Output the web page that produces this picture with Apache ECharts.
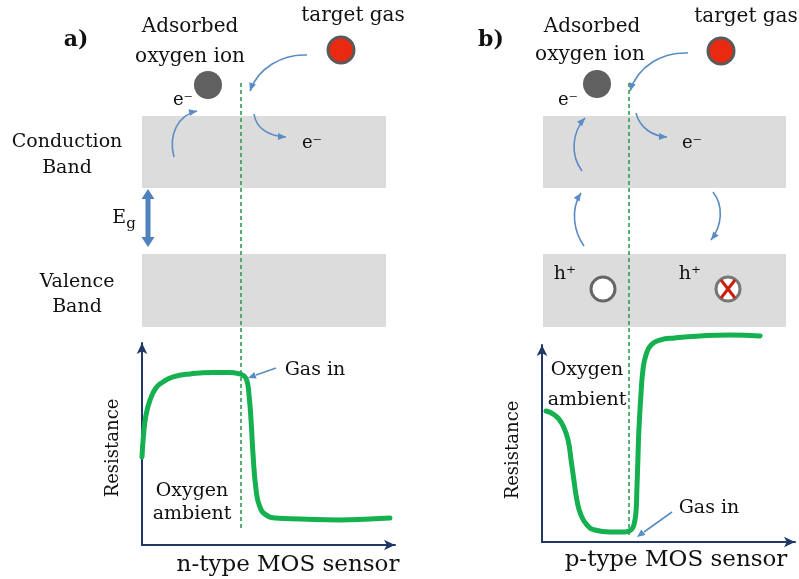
<!DOCTYPE html>
<html><head><meta charset="utf-8">
<script src="https://cdn.jsdelivr.net/npm/echarts@6/dist/echarts.min.js"></script>
<style>html,body{margin:0;padding:0;background:#fff}#c{width:799px;height:579px}</style>
</head><body><div id="c"></div>
<script>
// n-type sensor resistance curve: [time (arb.), resistance (arb.)]
const nTypeTime = [0,0.6,1.6,3.2,5.5,8.3,12.3,19.0,28.1,34.8,37.9,40.3,41.5,42.3,43.1,43.9,45.1,46.6,49.0,52.6,62.5,78.3,90.1,98.0];
const nTypeRes  = [43.6,54.5,64.4,71.8,77.7,80.7,83.2,84.7,85.4,85.4,84.9,83.7,81.2,74.3,61.9,44.6,27.2,18.8,14.9,13.4,12.9,12.4,12.9,13.4];
// p-type sensor resistance curve
const pTypeTime = [1.6,4.3,6.7,8.7,10.3,11.5,12.6,13.8,15.4,17.8,20.9,26.9,32.8,35.2,36.4,37.2,37.5,37.9,38.3,39.1,39.9,41.1,43.1,46.6,52.6,62.5,74.3,86.2];
const pTypeRes  = [66.5,65.0,62.4,57.9,51.8,41.6,31.5,21.3,13.7,8.6,6.1,5.1,5.1,6.1,9.1,16.2,26.4,41.6,56.9,74.6,87.3,94.9,100.0,102.5,103.6,104.6,105.1,104.6];

const FONT = '"DejaVu Serif","Liberation Serif",serif';
const TXT = '#111';
const ARR = '#5b8cc4';
const GREEN = '#15b04f';
const NAVY = '#1f3864';

function zip(a,b){return a.map((v,i)=>[v,b[i]]);}

const g = [];
function text(x,y,t,size,opt){
  opt = opt||{};
  g.push({type:'text', x:x, y:y, rotation:opt.rot||0, z:20,
    style:{text:t, font:(opt.bold?'bold ':'')+size+'px '+FONT, fill:TXT, align:opt.align||'center', verticalAlign:'middle', rich:opt.rich}});
}
function rect(x,y,w,h){g.push({type:'rect', z:1, shape:{x:x,y:y,width:w,height:h}, style:{fill:'#dcdcdc'}});}
function circle(cx,cy,r,fill,stroke,lw){g.push({type:'circle', z:5, shape:{cx:cx,cy:cy,r:r}, style:{fill:fill, stroke:stroke||null, lineWidth:lw||0}});}
function line(x1,y1,x2,y2,color,lw,dash,z){g.push({type:'line', z:z||4, shape:{x1:x1,y1:y1,x2:x2,y2:y2}, style:{stroke:color, lineWidth:lw, lineDash:dash||null}});}
function head(xe,ye,xf,yf,len,wid,color){
  const dx=xe-xf, dy=ye-yf, L=Math.hypot(dx,dy), ux=dx/L, uy=dy/L;
  const bx=xe-ux*len, by=ye-uy*len;
  g.push({type:'polygon', z:6, shape:{points:[[xe,ye],[bx-uy*wid/2,by+ux*wid/2],[bx+uy*wid/2,by-ux*wid/2]]}, style:{fill:color}});
}
function curveArrow(x1,y1,cx1,cy1,cx2,cy2,x2,y2){
  g.push({type:'bezierCurve', z:6, shape:{x1:x1,y1:y1,cpx1:cx1,cpy1:cy1,cpx2:cx2,cpy2:cy2,x2:x2,y2:y2}, style:{stroke:ARR, lineWidth:1.6, fill:null}});
  head(x2,y2,cx2,cy2,8,7,ARR);
}

// ---------- Panel a ----------
rect(142,116,244,72); rect(142,254,244,73);
text(76,40,'a)',22,{bold:true});
text(190,27,'Adsorbed',20);
text(190,57,'oxygen ion',20);
text(353,16,'target gas',20);
circle(341,50,13,'#ea2a10','#5a5a5a',3);
circle(208,85,14,'#606060');
text(183,100,'e⁻',18);
text(312,143,'e⁻',18);
text(67,142,'Conduction',19);
text(67,168,'Band',19);
text(77,282,'Valence',19);
text(77,307,'Band',19);
text(124,218,'{e|E}{s|g}',19,{rich:{e:{font:'19px '+FONT, fill:TXT},s:{font:'15px '+FONT, fill:TXT, padding:[12,0,0,0]}}});
line(148,198,148,238,'#4f81bd',5,null,6);
head(148,189,148,200,10,13,'#4f81bd');
head(148,247,148,236,10,13,'#4f81bd');
line(241,83,241,530,'#2e9e55',1.6,[4,3],8);
curveArrow(174,157,168,135,178,115,197,111);
curveArrow(307,55,282,54,258,68,250,91);
curveArrow(254,114,256,128,268,136,286,137);
text(315,370,'Gas in',19);
line(276,368,256,375,ARR,1.6,null,6); head(248,378,256,375,8,7,ARR);
text(192,491,'Oxygen',19);
text(192,514,'ambient',19);
text(113,448,'Resistance',18,{rot:Math.PI/2});
text(288,565,'n-type MOS sensor',23);

// ---------- Panel b ----------
rect(543,116,243,72); rect(543,254,243,73);
text(491,40,'b)',22,{bold:true});
text(592,27,'Adsorbed',20);
text(590,55,'oxygen ion',20);
text(746,17,'target gas',20);
circle(721,51,13,'#ea2a10','#5a5a5a',3);
circle(597,84,14,'#606060');
text(568,100,'e⁻',18);
text(692,143,'e⁻',18);
text(565,274,'h⁺',19);
text(690,274,'h⁺',19);
circle(603,289,12,'#ffffff','#666',3);
circle(728,289,12,'#ffffff','#777',3);
line(721,280,735,298,'#cc1f10',3,null,7);
line(735,280,721,298,'#cc1f10',3,null,7);
line(629,83,629,535,'#2e9e55',1.6,[4,3],8);
curveArrow(584,246,574,232,570,210,581,193);
curveArrow(582,171,570,155,572,132,585,118);
curveArrow(636,113,640,128,652,136,667,137);
curveArrow(688,53,662,52,638,66,630,91);
curveArrow(713,192,724,206,722,226,711,240);
text(587,370,'Oxygen',19);
text(587,400,'ambient',19);
text(709,508,'Gas in',19);
line(672,512,644,532,ARR,1.6,null,6); head(637,537,645,531,8,7,ARR);
text(513,450,'Resistance',18,{rot:Math.PI/2});
text(676,560,'p-type MOS sensor',23);

const axisCommon = {type:'value', min:0, max:100, show:true,
  axisLine:{show:true, lineStyle:{color:NAVY, width:2}, symbol:['none','arrow'], symbolSize:[8,11]},
  axisTick:{show:false}, axisLabel:{show:false}, splitLine:{show:false}};

const chart = echarts.init(document.getElementById('c'), null, {renderer:'canvas'});
chart.setOption({
  backgroundColor:'#fff',
  animation:false,
  grid:[{left:142, top:343, width:253, height:202},{left:542, top:345, width:253, height:197}],
  xAxis:[Object.assign({gridIndex:0}, axisCommon),Object.assign({gridIndex:1}, axisCommon)],
  yAxis:[Object.assign({gridIndex:0}, axisCommon),Object.assign({gridIndex:1}, axisCommon)],
  series:[
    {type:'line', xAxisIndex:0, yAxisIndex:0, data:zip(nTypeTime,nTypeRes), smooth:0.5, showSymbol:false, clip:false, lineStyle:{color:GREEN, width:5, cap:'round', join:'round'}, z:3},
    {type:'line', xAxisIndex:1, yAxisIndex:1, data:zip(pTypeTime,pTypeRes), smooth:0.5, showSymbol:false, clip:false, lineStyle:{color:GREEN, width:5, cap:'round', join:'round'}, z:3}
  ],
  graphic:g
});
</script></body></html>
